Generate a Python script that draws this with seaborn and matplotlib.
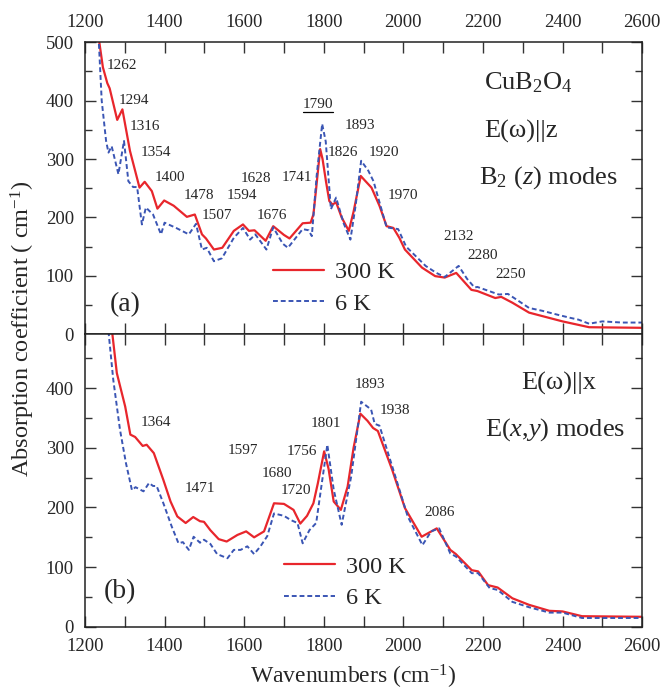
import matplotlib
matplotlib.use("Agg")
import matplotlib.pyplot as plt
import seaborn as sns
import numpy as np
import pandas as pd
from matplotlib.ticker import MultipleLocator
from matplotlib.lines import Line2D

# ---------------- data ----------------
# panel (a): E(w)||z
a_300_x = [1236, 1245, 1256, 1262, 1281, 1294, 1313, 1337, 1350, 1368, 1382, 1399, 1423, 1456, 1476,
           1494, 1504, 1524, 1545, 1574, 1597, 1612, 1626, 1654, 1673, 1700, 1714, 1747, 1767, 1774,
           1781, 1791, 1797, 1806, 1814, 1822, 1831, 1845, 1863, 1875, 1893, 1905, 1920, 1940, 1958,
           1975, 1990, 2004, 2047, 2080, 2104, 2133, 2171, 2186, 2231, 2246, 2274, 2316, 2400, 2467, 2600]
a_300_y = [500, 457, 430, 421, 367, 385, 314, 251, 261, 245, 215, 229, 220, 201, 205,
           171, 164, 145, 148, 177, 188, 177, 178, 160, 185, 170, 164, 190, 191, 205,
           250, 317, 300, 260, 228, 222, 226, 200, 177, 210, 271, 262, 251, 220, 185,
           182, 165, 145, 114, 99.5, 97, 105, 76, 74, 62, 64, 54, 37, 22, 12, 11]

a_6_x = [1235, 1242, 1253, 1259, 1267, 1284, 1298, 1309, 1321, 1331, 1343, 1353, 1371, 1391, 1400,
         1429, 1461, 1479, 1494, 1506, 1524, 1544, 1574, 1597, 1615, 1628, 1656, 1673, 1697, 1710,
         1747, 1762, 1770, 1782, 1796, 1805, 1818, 1831, 1850, 1867, 1880, 1894, 1912, 1925, 1958,
         1987, 2007, 2056, 2083, 2104, 2139, 2160, 2179, 2186, 2240, 2263, 2316, 2350, 2390, 2420,
         2440, 2467, 2500, 2550, 2600]
a_6_y = [497, 400, 331, 311, 322, 274, 331, 262, 252, 252, 188, 217, 205, 171, 191,
         182, 171, 189, 145, 148, 125, 130, 165, 182, 162, 171, 145, 183, 155, 148,
         180, 178, 168, 270, 360, 330, 214, 234, 190, 162, 220, 297, 280, 262, 183,
         180, 150, 117, 105, 98, 117, 95, 80, 81, 68, 69, 45, 40, 33, 28,
         25, 18, 22, 20, 20]

# panel (b): E(w)||x
b_300_x = [1268, 1280, 1301, 1314, 1326, 1345, 1355, 1373, 1397, 1415, 1432, 1453, 1472, 1489, 1499,
           1515, 1536, 1556, 1583, 1605, 1625, 1650, 1675, 1700, 1724, 1741, 1758, 1774, 1785, 1801,
           1812, 1825, 1843, 1860, 1875, 1892, 1910, 1924, 1936, 1972, 2004, 2046, 2084, 2118, 2132,
           2172, 2188, 2213, 2237, 2274, 2316, 2367, 2400, 2449, 2600]
b_300_y = [495, 425, 369, 322, 318, 303, 305, 291, 246, 210, 185, 174, 184, 177, 176,
           162, 147, 143, 154, 160, 150, 160, 207, 206, 196, 173, 186, 207, 240, 294,
           265, 210, 196, 235, 300, 357, 345, 333, 328, 263, 199, 151, 165, 129, 122,
           95, 93, 70, 66, 48, 37, 27, 26, 18, 17]

b_6_x = [1259, 1271, 1288, 1303, 1318, 1327, 1347, 1361, 1371, 1380, 1397, 1418, 1435, 1446, 1461,
         1473, 1489, 1499, 1515, 1532, 1558, 1574, 1591, 1608, 1625, 1641, 1658, 1675, 1700, 1717,
         1734, 1747, 1764, 1781, 1795, 1809, 1825, 1845, 1869, 1894, 1919, 1928, 1940, 1972, 2011,
         2048, 2070, 2090, 2118, 2132, 2172, 2188, 2217, 2237, 2274, 2316, 2367, 2400, 2449, 2600]
b_6_y = [495, 414, 330, 274, 229, 234, 227, 241, 236, 236, 207, 168, 140, 142, 129,
         151, 141, 146, 139, 122, 115, 129, 129, 135, 122, 135, 152, 190, 186, 179,
         174, 140, 162, 174, 240, 305, 230, 171, 252, 377, 364, 340, 337, 269, 185,
         137, 160, 165, 123, 118, 90, 90, 65, 62, 42, 33, 24, 24, 15, 15]

temps = ["300 K", "6 K"]

# peak labels
a_lab = ["1262", "1294", "1316", "1354", "1400", "1478", "1507", "1594", "1628", "1676", "1741",
         "1826", "1893", "1920", "1970", "2132", "2280", "2250"]
a_lab_x = [1292, 1322, 1351, 1377, 1413, 1486, 1532, 1595, 1630, 1671, 1732,
           1848, 1891, 1951, 1998, 2138, 2199, 2270]
a_lab_y = [460, 400, 356, 311, 268, 238, 204, 238, 266, 204, 269,
           312, 357, 312, 237, 167, 135, 102]
a_under = "1790"
a_under_xy = (1786, 393)

b_lab = ["1364", "1471", "1597", "1680", "1720", "1756", "1801", "1893", "1938", "2086"]
b_lab_x = [1378, 1489, 1597, 1682, 1730, 1745, 1806, 1915, 1980, 2091]
b_lab_y = [342, 231, 295, 257, 228, 293, 341, 406, 362, 191]

# ---------------- style ----------------
sns.set_theme(style="ticks")
plt.rcParams["font.family"] = ["Liberation Serif", "DejaVu Serif"]
plt.rcParams["mathtext.fontset"] = "custom"
plt.rcParams["mathtext.rm"] = "Liberation Serif"
plt.rcParams["mathtext.it"] = "Liberation Serif:italic"
plt.rcParams["axes.linewidth"] = 1.1

RED = "#e8262c"
BLUE = "#3a55b4"

fig = plt.figure(figsize=(6.64, 6.92), dpi=100)
L, W = 0.128, 0.839
ax1 = fig.add_axes([L, 0.517, W, 0.422])
ax2 = fig.add_axes([L, 0.094, W, 0.423])

def make_df(x300, y300, x6, y6):
    d1 = pd.DataFrame({"x": x300, "y": y300, "T": temps[0]})
    d2 = pd.DataFrame({"x": x6, "y": y6, "T": temps[1]})
    return d1, d2

for ax, (x300, y300, x6, y6) in [(ax1, (a_300_x, a_300_y, a_6_x, a_6_y)),
                                 (ax2, (b_300_x, b_300_y, b_6_x, b_6_y))]:
    d1, d2 = make_df(x300, y300, x6, y6)
    sns.lineplot(data=d1, x="x", y="y", ax=ax, color=RED, lw=1.6, label=temps[0])
    sns.lineplot(data=d2, x="x", y="y", ax=ax, color=BLUE, lw=1.4, ls=(0, (2.5, 1.5)), label=temps[1])
    ax.set_xlim(1200, 2600)
    ax.xaxis.set_major_locator(MultipleLocator(200))
    ax.xaxis.set_minor_locator(MultipleLocator(100))
    ax.yaxis.set_major_locator(MultipleLocator(100))
    ax.yaxis.set_minor_locator(MultipleLocator(50))
    ax.tick_params(which="both", direction="in", top=True, right=True, color="#333333",
                   labelsize=13.5, pad=8, width=1.0)
    ax.tick_params(which="major", length=8)
    ax.tick_params(which="minor", length=8)
    ax.tick_params(axis="y", which="minor", length=5)
    ax.set_xlabel("")
    ax.set_ylabel("")
    for s in ax.spines.values():
        s.set_color("#222222")

ax1.set_ylim(0, 500)
ax2.set_ylim(0, 490)
ax1.tick_params(axis="x", labelbottom=False, labeltop=True)

lab_fs = 11
for t, x, y in zip(a_lab, a_lab_x, a_lab_y):
    ax1.text(x, y, t, ha="center", va="center", fontsize=lab_fs)
ut = ax1.text(a_under_xy[0], a_under_xy[1], a_under, ha="center", va="center", fontsize=lab_fs)
for t, x, y in zip(b_lab, b_lab_x, b_lab_y):
    ax2.text(x, y, t, ha="center", va="center", fontsize=lab_fs)

big = 19
ax1.text(2203, 431, r"CuB$_2$O$_4$", ha="left", va="center", fontsize=big)
ax1.text(2203, 348, "E(ω)||z", ha="left", va="center", fontsize=big)
ax1.text(2191, 268, r"B$_2$ ($z$) modes", ha="left", va="center", fontsize=big)
ax1.text(1301, 51, "(a)", ha="center", va="center", fontsize=20)

ax2.text(2295, 408, "E(ω)||x", ha="left", va="center", fontsize=big)
ax2.text(2205, 331, r"E($x$,$y$) modes", ha="left", va="center", fontsize=big)
ax2.text(1287, 59, "(b)", ha="center", va="center", fontsize=20)

leg_kw = dict(frameon=False, fontsize=17.5, handlelength=2.1, handletextpad=0.45,
              labelspacing=0.38, borderpad=0, borderaxespad=0, loc="center left")
ax1.legend(bbox_to_anchor=(0.338, 0.158), **leg_kw)
ax2.legend(bbox_to_anchor=(0.358, 0.152), **leg_kw)

fig.text(0.034, 0.525, r"Absorption coefficient ( cm$^{-1}$)", rotation=90,
         ha="center", va="center", fontsize=17.5)
fig.text(0.532, 0.022, r"Wavenumbers (cm$^{-1}$)", ha="center", va="center", fontsize=17)

# underline for the 1790 label
fig.canvas.draw()
bb = ut.get_window_extent(renderer=fig.canvas.get_renderer())
inv = fig.transFigure.inverted()
(x0, y0), (x1, y1) = inv.transform([(bb.x0, bb.y0 - 1), (bb.x1, bb.y0 - 1)])
fig.add_artist(Line2D([x0, x1], [y0, y1], color="black", lw=0.9, transform=fig.transFigure))

fig.savefig("out.png", dpi=100)
